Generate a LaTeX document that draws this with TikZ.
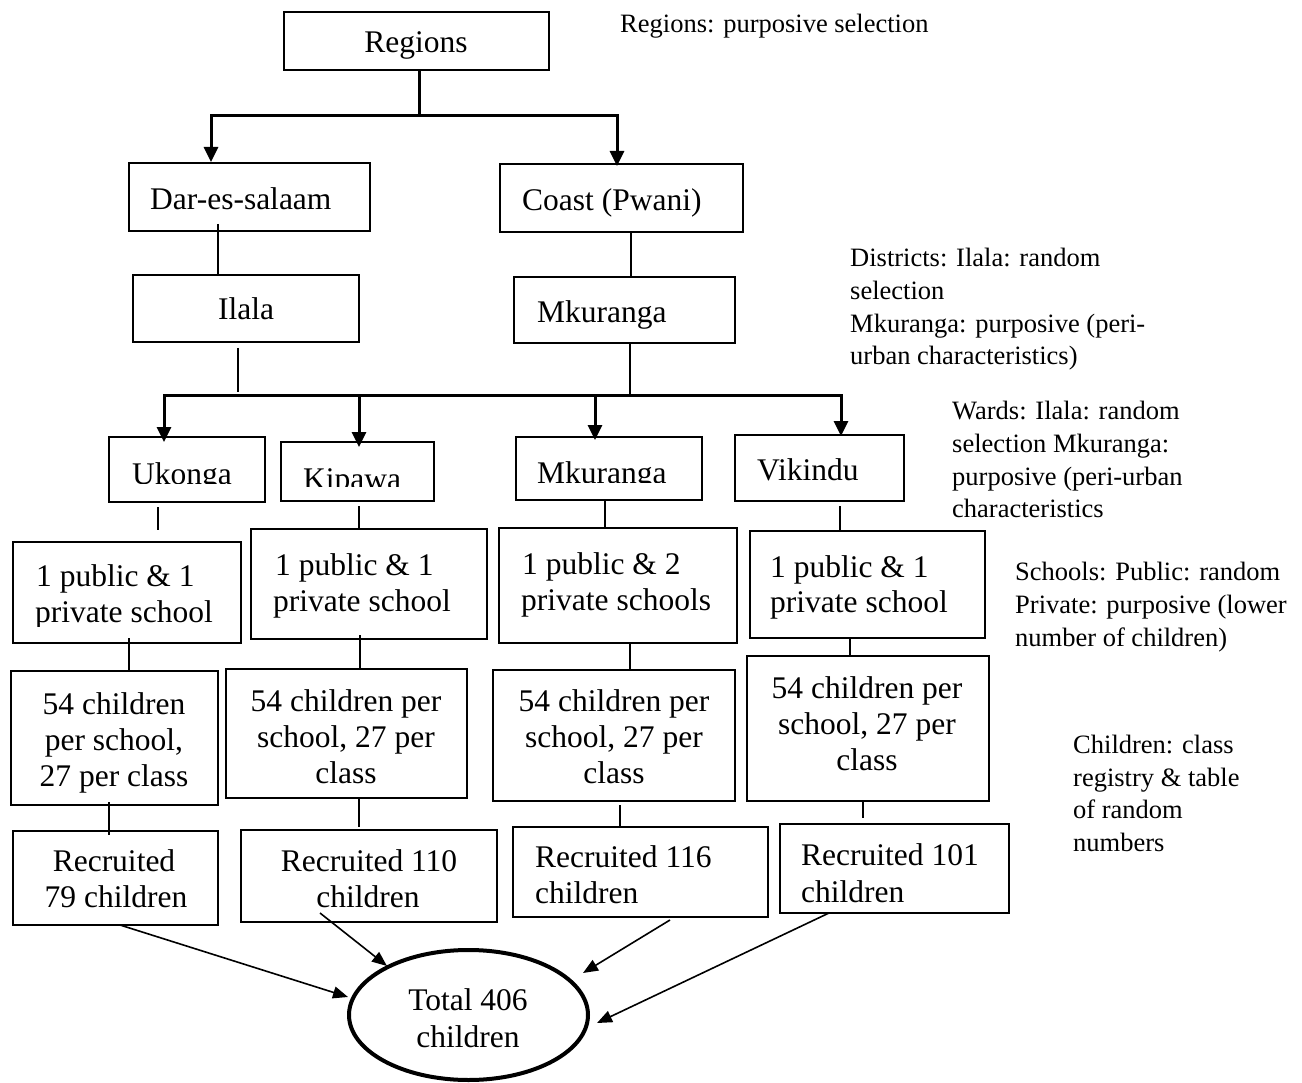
\documentclass[tikz,border=0pt]{standalone}
\usepackage{fontspec}
\setmainfont{Liberation Serif}
\usetikzlibrary{arrows.meta,fit,shapes.geometric}
\begin{document}
\begin{tikzpicture}[x=1pt,y=-1pt,
  box/.style={draw, line width=2pt, inner sep=0pt, rectangle},
  bt/.style={inner sep=0pt, font=\fontsize{31.5}{36}\selectfont},
  btl/.style={bt, anchor=base west},
  btc/.style={bt, anchor=base},
  anno/.style={inner sep=0pt, font=\fontsize{26.5}{32.7}\selectfont, anchor=base west},
  tl/.style={line width=3pt},
  cl/.style={line width=2.7pt},
  ta/.style={line width=3pt, -{Triangle[length=15pt,width=14pt]}},
  fa/.style={line width=1.6pt, -{Triangle[length=15pt,width=12pt]}},
]
\useasboundingbox (0,0) rectangle (1302,1083);

% ---------- boxes ----------
\node[box, fit={(284,12) (549,70)}] (reg) {};
\node[box, fit={(129,163) (370,231)}] (dar) {};
\node[box, fit={(500,164) (743,232)}] (coast) {};
\node[box, fit={(133,275) (359,342)}] (ilala) {};
\node[box, fit={(514,277) (735,343)}] (mkd) {};
\node[box, fit={(109,437) (265,502)}] (uk) {};
\node[box, fit={(281,442) (434,501)}] (kp) {};
\node[box, fit={(516,437) (702,500)}] (mkw) {};
\node[box, fit={(735,435) (904,501)}] (vk) {};
\node[box, fit={(13,542) (241,643)}] (uks) {};
\node[box, fit={(251,529) (487,639)}] (kps) {};
\node[box, fit={(499,528) (737,643)}] (mks) {};
\node[box, fit={(750,531) (985,638)}] (vks) {};
\node[box, fit={(11,671) (218,805)}] (ukc) {};
\node[box, fit={(226,669) (467,798)}] (kpc) {};
\node[box, fit={(493,670) (735,801)}] (mkc) {};
\node[box, fit={(747,656) (989,801)}] (vkc) {};
\node[box, fit={(13,831) (218,925)}] (r79) {};
\node[box, fit={(241,830) (497,922)}] (r110) {};
\node[box, fit={(513,827) (768,917)}] (r116) {};
\node[box, fit={(780,824) (1009,913)}] (r101) {};
\node[draw, ellipse, line width=4pt, minimum width=239pt, minimum height=130pt, inner sep=0pt] (tot) at (468.5,1015) {};

% ---------- box texts ----------
\node[btc] (regt) at (416,53) {Regions};
\node[btl] (dart) at (150,210) {Dar-es-salaam};
\node[btl] (coastt) at (522,211) {Coast (Pwani)};
\node[btc] (ilalat) at (246,320) {Ilala};
\node[btl] (mkdt) at (537,323) {Mkuranga};

\begin{scope}
  \clip (110,440) rectangle (264,483);
  \node[btl] (ukt) at (132,484) {Ukonga};
\end{scope}
\begin{scope}
  \clip (282,444) rectangle (433,486);
  \node[btl] (kpt) at (303,489) {Kipawa};
\end{scope}
\begin{scope}
  \clip (517,439) rectangle (701,482);
  \node[btl] (mkwt) at (537,483) {Mkuranga};
\end{scope}
\node[btl] (vkt) at (757,480) {Vikindu};

\node[btl] (uks1) at (36,586) {1 public \& 1};
\begin{scope}
  \clip (14,595) rectangle (240,626);
  \node[btl] (uks2) at (35,622) {private school};
\end{scope}
\node[btl] (kps1) at (275,575) {1 public \& 1};
\node[btl] (kps2) at (273,611) {private school};
\node[btl] (mks1) at (522,574) {1 public \& 2};
\node[btl] (mks2) at (521,610) {private schools};
\node[btl] (vks1) at (770,577) {1 public \& 1};
\node[btl] (vks2) at (770,612) {private school};

\node[btc] (ukc1) at (114,714) {54 children};
\node[btc] (ukc2) at (114,750) {per school,};
\node[btc] (ukc3) at (114,786) {27 per class};
\node[btc] (kpc1) at (346,711) {54 children per};
\node[btc] (kpc2) at (346,747) {school, 27 per};
\node[btc] (kpc3) at (346,783) {class};
\node[btc] (mkc1) at (614,711) {54 children per};
\node[btc] (mkc2) at (614,747) {school, 27 per};
\node[btc] (mkc3) at (614,783) {class};
\node[btc] (vkc1) at (867,698) {54 children per};
\node[btc] (vkc2) at (867,734) {school, 27 per};
\node[btc] (vkc3) at (867,770) {class};

\node[btc] (r79a) at (114,871) {Recruited};
\node[btc] (r79b) at (116,907) {79 children};
\node[btc] (r110a) at (369,871) {Recruited 110};
\node[btc] (r110b) at (368,907) {children};
\node[btl] (r116a) at (535,867) {Recruited 116};
\node[btl] (r116b) at (535,903) {children};
\node[btl] (r101a) at (801,865) {Recruited 101};
\node[btl] (r101b) at (801,902) {children};

\node[btc] (tot1) at (468,1010) {Total 406};
\node[btc] (tot2) at (468,1047) {children};

% ---------- annotations ----------
\node[anno] (an0) at (620,33) {Regions: purposive selection};
\node[anno] (an1a) at (850,267) {Districts: Ilala: random};
\node[anno] (an1b) at (850,300) {selection};
\node[anno] (an1c) at (850,333) {Mkuranga: purposive (peri-};
\node[anno] (an1d) at (850,365) {urban characteristics)};
\node[anno] (an2a) at (952,419) {Wards: Ilala: random};
\node[anno] (an2b) at (952,452) {selection Mkuranga:};
\node[anno] (an2c) at (952,485) {purposive (peri-urban};
\node[anno] (an2d) at (952,517) {characteristics};
\node[anno] (an3a) at (1015,580) {Schools: Public: random};
\node[anno] (an3b) at (1015,613) {Private: purposive (lower};
\node[anno] (an3c) at (1015,646) {number of children)};
\node[anno] (an4a) at (1073,753) {Children: class};
\node[anno] (an4b) at (1073,786) {registry \& table};
\node[anno] (an4c) at (1073,818) {of random};
\node[anno] (an4d) at (1073,851) {numbers};

% ---------- tree connectors ----------
\coordinate (rj) at (419,116);
\coordinate (rl) at (211,116);
\coordinate (rr) at (617,116);
\draw[tl] (rj |- reg.south) -- (rj);
\draw[ta] (rj) -- (rl) -- (rl |- dar.north);
\draw[ta] (rj) -- (rr) -- ([yshift=-3pt]rr |- coast.north);

\coordinate (d1) at (218,224);
\draw[cl] (d1) -- (d1 |- ilala.north);
\coordinate (c1) at (631,232);
\draw[cl] (c1) -- (c1 |- mkd.north);

\coordinate (b0) at (164,396);
\coordinate (b1) at (359,396);
\coordinate (b2) at (595,396);
\coordinate (b3) at (841,396);
\coordinate (i1) at (238,348);
\coordinate (m1) at (630,343);
\draw[cl] (i1) -- (238,392);
\draw[cl] (m1) -- (m1 |- b3);
\draw[tl] (b0) -- (b3);
\draw[ta] (b1) -- (b0) -- ([yshift=-6pt]b0 |- uk.north);
\draw[ta] (b1) -- ([yshift=-6pt]b1 |- kp.north);
\draw[ta] (b2) -- ([yshift=-4pt]b2 |- mkw.north);
\draw[ta] (b2) -- (b3) -- ([yshift=-2pt]b3 |- vk.north);

% ward -> school
\coordinate (w0) at (158,507);
\coordinate (w1) at (359,506);
\coordinate (w2) at (605,500);
\coordinate (w3) at (840,506);
\draw[cl] (w0) -- (158,530);
\draw[cl] (w1) -- (w1 |- kps.north);
\draw[cl] (w2) -- (w2 |- mks.north);
\draw[cl] (w3) -- (w3 |- vks.north);

% school -> children
\coordinate (s0) at (129,638);
\coordinate (s1) at (360,635);
\coordinate (s2) at (630,643);
\coordinate (s3) at (850,638);
\draw[cl] (s0) -- (s0 |- ukc.north);
\draw[cl] (s1) -- (s1 |- kpc.north);
\draw[cl] (s2) -- (s2 |- mkc.north);
\draw[cl] (s3) -- (s3 |- vkc.north);

% children -> recruited
\coordinate (k0) at (109,802);
\coordinate (k1) at (359,797);
\coordinate (k2) at (620,805);
\coordinate (k3) at (863,801);
\draw[cl] (k0) -- (109,835);
\draw[cl] (k1) -- (359,827);
\draw[cl] (k2) -- (k2 |- r116.north);
\draw[cl] (k3) -- (863,818);

% recruited -> total
\coordinate (f0) at (120,925);
\coordinate (e0) at (348,997);
\coordinate (f1) at (320,913);
\coordinate (e1) at (387,966);
\coordinate (f2) at (670,920);
\coordinate (e2) at (583,973);
\coordinate (f3) at (829,913);
\coordinate (e3) at (597,1023);
\draw[fa] (f0) -- (e0);
\draw[fa] (f1) -- (e1);
\draw[fa] (f2) -- (e2);
\draw[fa] (f3) -- (e3);
\end{tikzpicture}
\end{document}
